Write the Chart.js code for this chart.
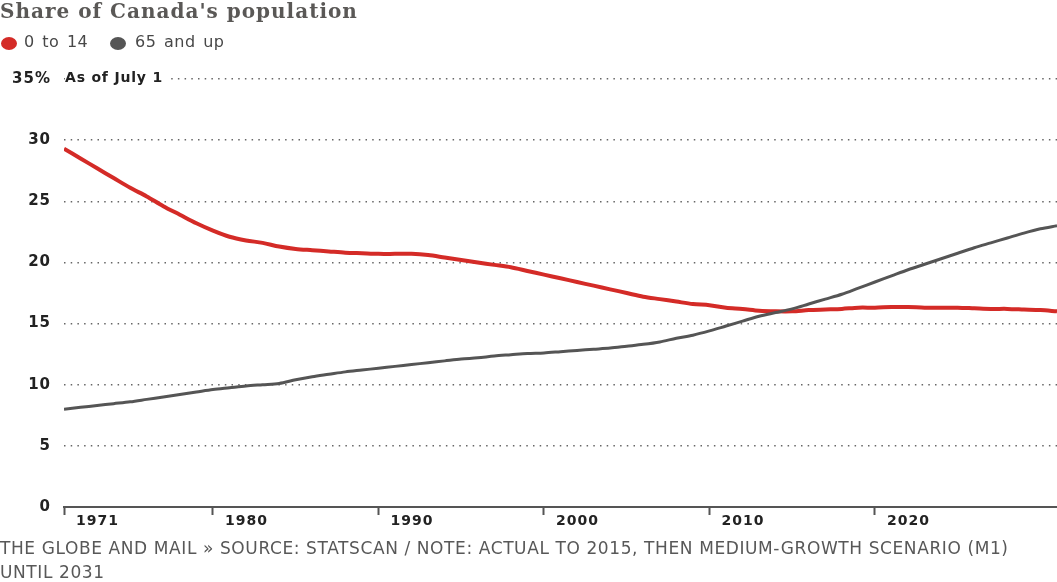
<!DOCTYPE html>
<html>
<head>
<meta charset="utf-8">
<script src="https://cdn.jsdelivr.net/npm/chart.js@4.4.0/dist/chart.umd.min.js"></script>
<style>
  html, body { margin: 0; padding: 0; background: #fff; }
  body { width: 1057px; height: 582px; position: relative; overflow: hidden; font-family: 'DejaVu Sans', sans-serif; }
  #wrap { position: absolute; left: 0; top: 0; width: 1057px; height: 582px; }
  .title { position: absolute; left: 0; top: -1px; font-family: 'DejaVu Serif', serif; font-weight: bold; font-size: 20px; letter-spacing: 1px; color: #5a5856; white-space: nowrap; }
  .legend { position: absolute; left: 0; top: 32px; font-size: 16px; letter-spacing: 0.5px; word-spacing: 2px; color: #484848; white-space: nowrap; }
  .legend .dot { position: absolute; top: 5px; width: 16px; height: 13px; border-radius: 50%; }
  .legend .lbl { position: absolute; top: 0; }
  .note { position: absolute; left: 65px; top: 69px; padding-right: 5px; background: #fff; font-size: 14px; font-weight: bold; letter-spacing: 0.8px; color: #222; white-space: nowrap; }
  .footer { position: absolute; left: 0; top: 536px; font-size: 17px; line-height: 24px; letter-spacing: 0.6px; color: #585858; width: 1057px; white-space: nowrap; }
</style>
</head>
<body>
<div id="wrap"><canvas id="popChart"></canvas></div>
<div class="title">Share of Canada's population</div>
<div class="legend">
  <span class="dot" style="left:1px;background:#d42b27"></span><span class="lbl" style="left:24px">0 to 14</span>
  <span class="dot" style="left:110px;background:#555555"></span><span class="lbl" style="left:135px">65 and up</span>
</div>
<div class="note">As of July 1</div>
<div class="footer">THE GLOBE AND MAIL » SOURCE: STATSCAN / NOTE: ACTUAL TO 2015, THEN MEDIUM-GROWTH SCENARIO (M1)<br>UNTIL 2031</div>

<script>
// years 1971 to 2031
const years = [];
for (let y = 1971; y <= 2031; y++) years.push(y);

// share aged 0 to 14 (%)
const young = [
  29.3, 28.5, 27.7, 26.9, 26.1, 25.4, 24.6, 23.9, 23.2, 22.6,
  22.1, 21.8, 21.6, 21.3, 21.1, 21.0, 20.9, 20.8, 20.75, 20.7,
  20.7, 20.7, 20.6, 20.4, 20.2, 20.0, 19.8, 19.6, 19.3, 19.0,
  18.7, 18.4, 18.1, 17.8, 17.5, 17.2, 17.0, 16.8, 16.6, 16.5,
  16.3, 16.2, 16.05, 16.0, 16.0, 16.1, 16.15, 16.2, 16.3, 16.3,
  16.35, 16.35, 16.3, 16.3, 16.3, 16.25, 16.2, 16.2, 16.15, 16.1,
  16.0
];

// share aged 65 and up (%)
const seniors = [
  8.0, 8.15, 8.3, 8.45, 8.6, 8.8, 9.0, 9.2, 9.4, 9.6,
  9.75, 9.9, 10.0, 10.1, 10.4, 10.65, 10.85, 11.05, 11.2, 11.35,
  11.5, 11.65, 11.8, 11.95, 12.1, 12.2, 12.35, 12.45, 12.55, 12.6,
  12.7, 12.8, 12.9, 13.0, 13.15, 13.3, 13.5, 13.8, 14.05, 14.4,
  14.8, 15.2, 15.6, 15.9, 16.2, 16.6, 17.0, 17.4, 17.9, 18.4,
  18.9, 19.4, 19.85, 20.3, 20.75, 21.2, 21.6, 22.0, 22.4, 22.75,
  23.0
];

const xTickYears = [1971, 1980, 1990, 2000, 2010, 2020];
const yTicks = [0, 5, 10, 15, 20, 25, 30, 35];

const toPoints = arr => arr.map((v, i) => ({ x: years[i], y: v }));

// wider letter spacing for the canvas tick labels
const spacingPlugin = {
  id: 'spacing',
  beforeDraw: function(chart) { chart.ctx.letterSpacing = '1px'; }
};

const ctx = document.getElementById('popChart');
new Chart(ctx, {
  type: 'line',
  data: {
    datasets: [
      {
        label: '65 and up',
        data: toPoints(seniors),
        borderColor: '#555555',
        borderWidth: 3,
        pointRadius: 0,
        tension: 0.3
      },
      {
        label: '0 to 14',
        data: toPoints(young),
        borderColor: '#d42b27',
        borderWidth: 4,
        pointRadius: 0,
        tension: 0.3
      }
    ]
  },
  plugins: [spacingPlugin],
  options: {
    responsive: true,
    maintainAspectRatio: false,
    animation: false,
    layout: { padding: { top: 79, bottom: 45, left: 0, right: 0 } },
    plugins: { legend: { display: false }, tooltip: { enabled: false } },
    scales: {
      x: {
        type: 'linear',
        min: 1971,
        max: 2031,
        afterBuildTicks: function(scale) {
          scale.ticks = xTickYears.map(v => ({ value: v }));
        },
        afterFit: function(scale) { scale.height = 30; },
        grid: {
          drawOnChartArea: false,
          drawTicks: true,
          tickLength: 8,
          tickColor: '#555',
          tickWidth: 2
        },
        border: { display: true, color: '#555', width: 2 },
        ticks: {
          align: 'start',
          labelOffset: 12,
          padding: -2,
          maxRotation: 0,
          autoSkip: false,
          color: '#222',
          font: { family: "'DejaVu Sans', sans-serif", size: 14, weight: 'bold' },
          callback: function(value) { return String(value); }
        }
      },
      y: {
        min: 0,
        max: 35,
        afterBuildTicks: function(scale) {
          scale.ticks = yTicks.map(v => ({ value: v }));
        },
        afterFit: function(scale) { scale.width = 64; },
        grid: {
          drawTicks: false,
          lineWidth: 1.5,
          color: function(c) { return c.tick && c.tick.value === 0 ? 'rgba(0,0,0,0)' : '#666'; }
        },
        border: { display: false, dash: [1.5, 5.2] },
        ticks: {
          padding: 13,
          color: '#222',
          font: { family: "'DejaVu Sans', sans-serif", size: 15, weight: 'bold' },
          callback: function(value) { return value === 35 ? '35%' : String(value); }
        }
      }
    }
  }
});
</script>
</body>
</html>
